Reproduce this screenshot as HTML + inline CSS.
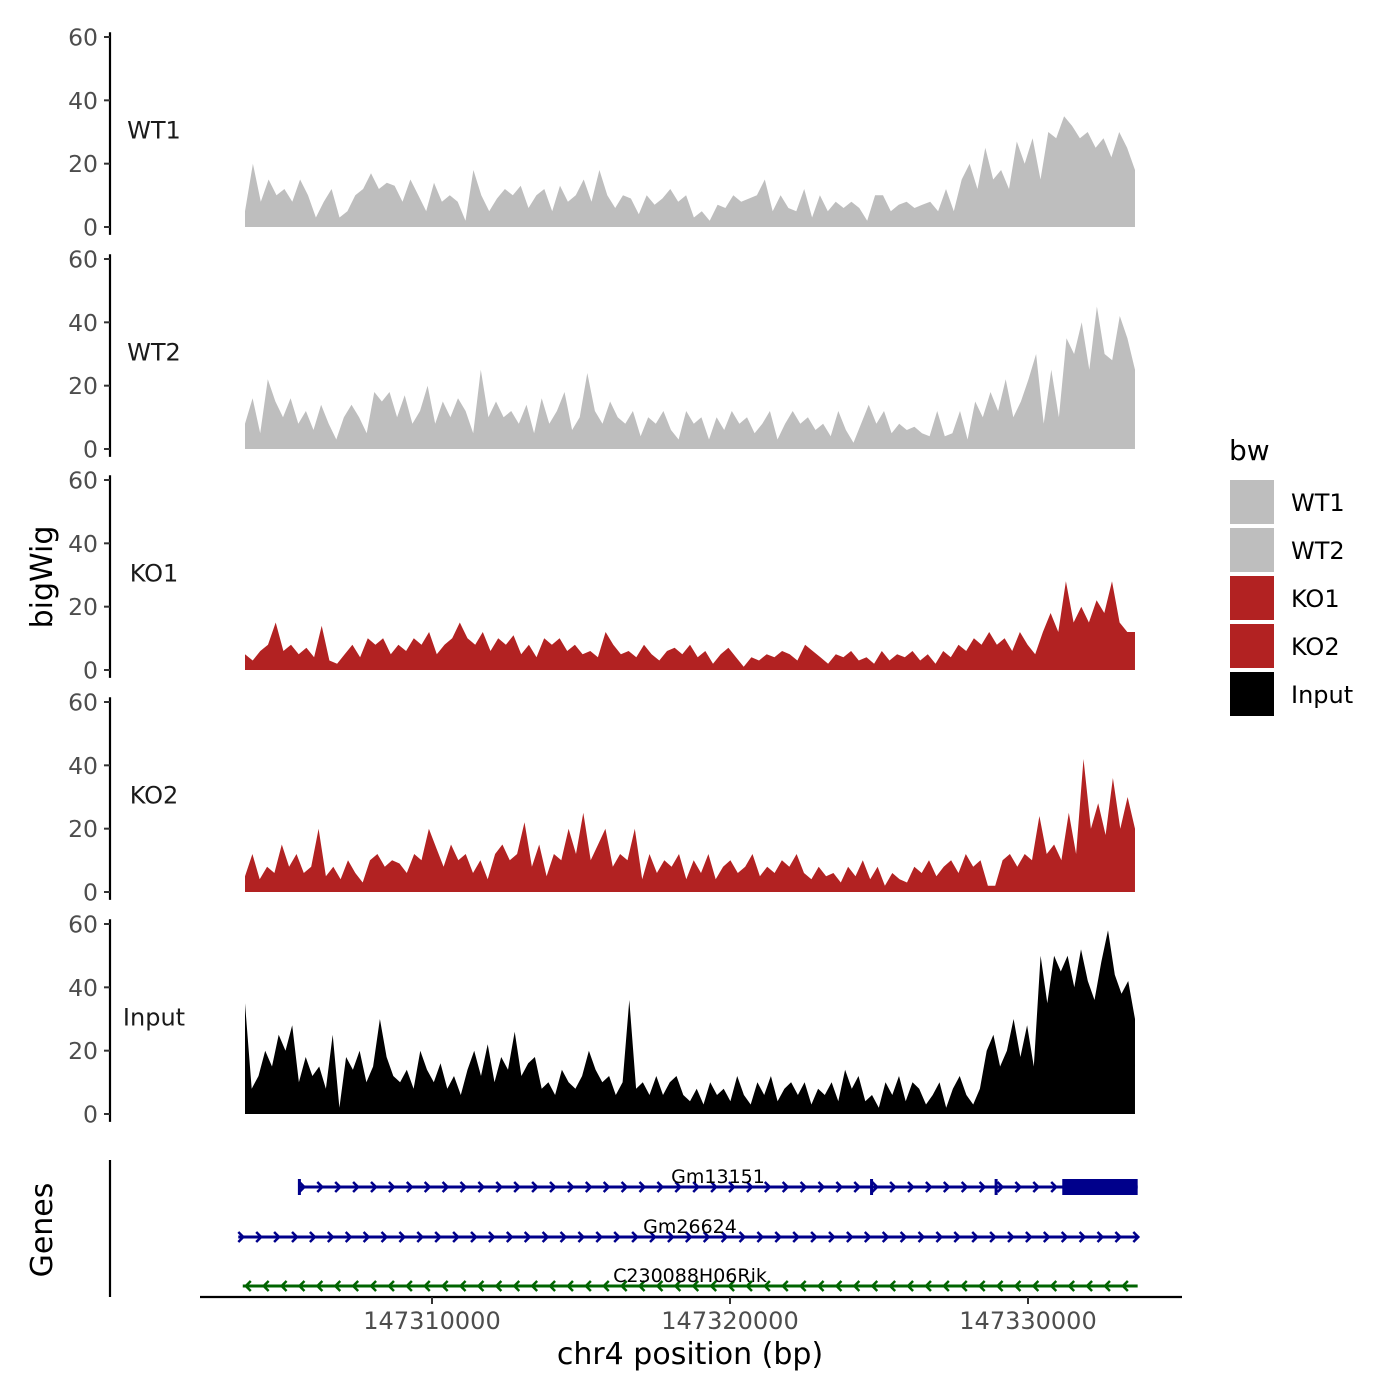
<!DOCTYPE html>
<html><head><meta charset="utf-8"><style>
html,body{margin:0;padding:0;background:#fff;}
svg{display:block;font-family:"DejaVu Sans","Liberation Sans",sans-serif;}
</style></head><body>
<svg id="chart" width="1400" height="1400" viewBox="0 0 1400 1400" xmlns="http://www.w3.org/2000/svg">
<text transform="translate(52,577) rotate(-90)" text-anchor="middle" font-size="30">bigWig</text>
<text transform="translate(52,1230) rotate(-90)" text-anchor="middle" font-size="30">Genes</text>
<text x="690" y="1364" text-anchor="middle" font-size="30">chr4 position (bp)</text>
<line x1="110" y1="1160" x2="110" y2="1297" stroke="#000" stroke-width="2.2"/>
<line x1="200" y1="1297" x2="1182" y2="1297" stroke="#000" stroke-width="2.2"/>
<g id="tracks"></g>
<g id="genes"></g>
<g id="xaxis"></g>
<g>
<text x="1229" y="460" font-size="28">bw</text>
<rect x="1230" y="480" width="44" height="44" fill="#bebebe"/>
<rect x="1230" y="528" width="44" height="44" fill="#bebebe"/>
<rect x="1230" y="576" width="44" height="44" fill="#b22222"/>
<rect x="1230" y="624" width="44" height="44" fill="#b22222"/>
<rect x="1230" y="672" width="44" height="44" fill="#000"/>
<text x="1291" y="511" font-size="24">WT1</text>
<text x="1291" y="559" font-size="24">WT2</text>
<text x="1291" y="607" font-size="24">KO1</text>
<text x="1291" y="655" font-size="24">KO2</text>
<text x="1291" y="703" font-size="24">Input</text>
</g>
</svg>
<script>
const trackNames = ["WT1","WT2","KO1","KO2","Input"];
const yTicks = [0,20,40,60];
const xTicks = [147310000,147320000,147330000];
const xTickLabels = ["147310000","147320000","147330000"];
const regionStart = 147303725;
const regionEnd = 147333590;
const wt1 = [5,20,8,15,10,12,8,15,10,3,8,12,3,5,10,12,17,12,14,13,8,15,10,5,14,8,10,8,2,18,10,5,9,12,10,13,6,10,12,5,13,8,10,15,8,18,10,6,10,9,4,10,7,9,12,8,10,3,5,2,7,6,10,8,9,10,15,5,10,6,5,12,3,10,5,8,6,8,6,2,10,10,5,7,8,6,7,8,5,12,5,15,20,12,25,15,18,12,27,20,28,15,30,28,35,32,28,30,25,28,22,30,25,18];
const wt2 = [8,16,5,22,15,10,16,8,12,6,14,8,3,10,14,10,5,18,15,18,10,17,8,12,20,8,15,10,16,12,5,25,10,15,10,12,8,14,5,16,8,12,18,6,10,24,12,8,15,10,8,12,4,10,8,12,6,3,12,8,10,3,10,6,12,8,10,5,8,12,3,8,12,8,10,6,8,4,12,6,2,8,14,8,12,5,8,6,7,5,4,12,4,5,12,3,15,10,18,12,22,10,15,22,30,8,25,10,35,30,40,25,45,30,28,42,35,25];
const ko1 = [5,3,6,8,15,6,8,5,7,4,14,3,2,5,8,4,10,8,10,5,8,6,10,8,12,5,8,10,15,10,8,12,6,10,8,11,5,8,4,10,8,10,6,8,5,6,4,12,8,5,6,4,8,5,3,6,7,5,8,4,6,2,5,7,4,1,4,3,5,4,6,5,3,8,6,4,2,5,4,6,3,4,2,6,3,5,4,6,3,5,2,6,4,8,6,10,8,12,8,10,6,12,8,5,12,18,12,28,15,20,15,22,18,28,15,12,12];
const ko2 = [5,12,4,8,6,15,8,12,6,8,20,5,8,4,10,6,3,10,12,8,10,9,6,12,10,20,14,8,15,10,12,6,10,4,12,15,10,12,22,8,15,5,12,10,20,12,25,10,15,20,8,12,10,20,4,12,6,10,8,12,4,10,6,12,4,8,10,6,8,12,5,8,6,10,8,12,6,4,8,5,6,3,8,5,10,4,8,2,6,4,3,8,6,10,5,8,10,6,12,8,10,2,2,10,12,8,12,10,24,12,15,10,25,12,42,20,28,18,36,20,30,20];
const inputSig = [35,8,12,20,15,25,20,28,10,18,12,15,8,25,2,18,14,20,10,15,30,18,12,10,14,8,20,14,10,16,8,12,6,14,20,12,22,10,18,14,26,12,16,18,8,10,6,14,10,8,12,20,14,10,12,6,10,36,8,10,6,12,6,10,12,6,4,8,3,10,6,8,4,12,6,3,10,6,12,4,8,10,6,10,3,8,6,10,4,14,8,12,4,6,2,10,6,12,4,10,8,3,6,10,2,8,12,6,3,8,20,25,15,20,30,18,28,15,50,35,50,45,50,40,52,42,36,48,58,44,38,42,30];
const geneNames = ["Gm13151","Gm26624","C230088H06Rik"];
const geneStarts = [147305550,147303500,147303650];
const geneEnds = [147333680,147333680,147333680];
const geneStrands = ["+","+","-"];
const exonStarts = [147331150];
const exonEnds = [147333680];
const intronMarks = [147305550,147324750,147328930];

const signals = [wt1,wt2,ko1,ko2,inputSig];
const colors = ["#bebebe","#bebebe","#b22222","#b22222","#000000"];
const NS = "http://www.w3.org/2000/svg";
function mk(tag, attrs, parent){const e=document.createElementNS(NS,tag);for(const k in attrs)e.setAttribute(k,attrs[k]);parent.appendChild(e);return e;}
const xScale = bp => 432 + (bp-147310000)/10000*298;
const panelZero = [227,449,670,892,1114];
const yScale = (v,p) => panelZero[p] - v/60*190;

const tracks = document.getElementById('tracks');
signals.forEach((s,p)=>{
  const g = mk('g',{},tracks);
  
  
  const step=(regionEnd-regionStart)/(s.length-1);
  let d='M'+xScale(regionStart)+','+yScale(0,p);
  s.forEach((v,i)=>{d+=' L'+xScale(regionStart+i*step).toFixed(1)+','+yScale(v,p).toFixed(1);});
  d+=' L'+xScale(regionEnd)+','+yScale(0,p)+' Z';
  const a=mk('path',{d:d,fill:colors[p]},g);
  
  
  const ax=mk('line',{x1:110,x2:110,y1:yScale(61.5,p),y2:yScale(-2.5,p),stroke:'#000','stroke-width':2.2},g);
  
  
  yTicks.forEach(t=>{
    const y=yScale(t,p);
    const tk=mk('line',{x1:104,x2:110,y1:y,y2:y,stroke:'#333','stroke-width':2},g);
    
    
    const tl=mk('text',{x:98,y:y+8.5,'text-anchor':'end','font-size':23.5,fill:'#4d4d4d'},g);
    
    
    tl.textContent=t;
  });
  const lab=mk('text',{x:154,y:yScale(28,p),'text-anchor':'middle','font-size':24,fill:'#1a1a1a'},g);
  
  
  lab.textContent=trackNames[p];
});

const gg=document.getElementById('genes');
const geneY=[1187,1237,1286];
const geneCol=["#00008b","#00008b","#006400"];
geneNames.forEach((n,i)=>{
  const g=mk('g',{},gg);
  
  
  const x1=xScale(geneStarts[i]),x2=xScale(geneEnds[i]),y=geneY[i],c=geneCol[i];
  mk('line',{x1:x1,x2:x2,y1:y,y2:y,stroke:c,'stroke-width':3},g);
  let d='';
  for(let x=x1+4;x<=x2;x+=17.9){
    if(geneStrands[i]=='+') d+='M'+(x-4)+','+(y-5)+' L'+(x+1)+','+y+' L'+(x-4)+','+(y+5)+' ';
    else d+='M'+(x+4)+','+(y-5)+' L'+(x-1)+','+y+' L'+(x+4)+','+(y+5)+' ';
  }
  mk('path',{d:d,stroke:c,'stroke-width':2.5,fill:'none'},g);
  if(i==0){
    exonStarts.forEach((s,k)=>{mk('rect',{x:xScale(s),y:y-8,width:xScale(exonEnds[k])-xScale(s),height:16,fill:c},g);});
    intronMarks.forEach(m=>{mk('line',{x1:xScale(m),x2:xScale(m),y1:y-8,y2:y+8,stroke:c,'stroke-width':3},g);});
  }
  const t=mk('text',{x:[718,690,690][i],y:y-4,'text-anchor':'middle','font-size':19,fill:'#000'},g);
  
  
  t.textContent=n;
});

const xa=document.getElementById('xaxis');
xTicks.forEach((t,i)=>{
  const x=xScale(t);
  const tk=mk('line',{x1:x,x2:x,y1:1297,y2:1304,stroke:'#333','stroke-width':2},xa);
  
  
  const tl=mk('text',{x:x,y:1329,'text-anchor':'middle','font-size':24,fill:'#4d4d4d'},xa);
  
  
  tl.textContent=xTickLabels[i];
});
</script>
</body></html>
